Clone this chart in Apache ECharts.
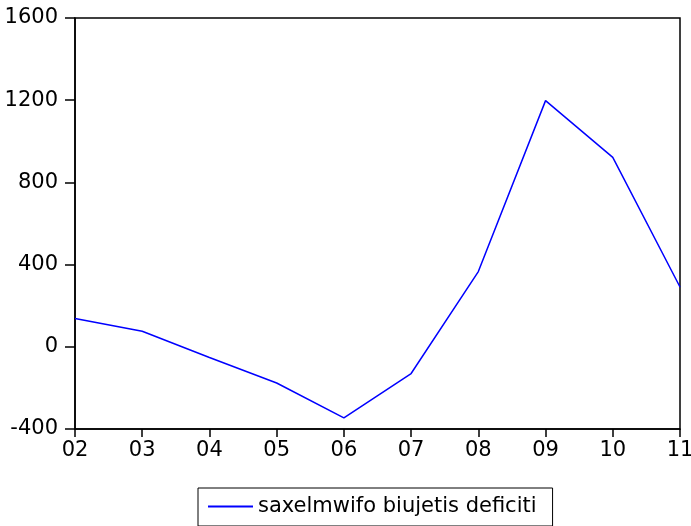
<!DOCTYPE html>
<html>
<head>
<meta charset="utf-8">
<script src="https://cdn.jsdelivr.net/npm/echarts@6/dist/echarts.min.js"></script>
<style>
  html, body { margin: 0; padding: 0; background: #fff; }
  #chart { width: 691px; height: 526px; }
</style>
</head>
<body>
<div id="chart"></div>
<script>
// Years (two-digit) on the category axis
const years = ['02', '03', '04', '05', '06', '07', '08', '09', '10', '11'];
// Budget deficit values per year
const deficit = [138, 76, -52, -176, -346, -130, 366, 1198, 922, 291];
// Value axis range
const yMin = -400;
const yMax = 1600;
const yStep = 400;
const seriesName = 'saxelmwifo biujetis deficiti';

const font = 'DejaVu Sans';
const chart = echarts.init(document.getElementById('chart'));
chart.setOption({
  animation: false,
  backgroundColor: '#ffffff',
  grid: {
    left: 75, right: 11, top: 18, bottom: 97,
    containLabel: false, outerBoundsMode: 'none',
    show: true, borderColor: '#000', borderWidth: 1.5, backgroundColor: 'transparent'
  },
  xAxis: {
    type: 'category',
    data: years,
    boundaryGap: false,
    axisLine: { onZero: false, lineStyle: { color: '#000', width: 1.5 } },
    axisTick: { show: true, inside: false, length: 8, alignWithLabel: true, lineStyle: { color: '#000', width: 1.5 } },
    axisLabel: { color: '#000', fontFamily: font, fontSize: 21, margin: 11 },
    splitLine: { show: false }
  },
  yAxis: {
    type: 'value',
    min: yMin, max: yMax, interval: yStep,
    axisLine: { show: true, lineStyle: { color: '#000', width: 1.5 } },
    axisTick: { show: true, inside: false, length: 10, lineStyle: { color: '#000', width: 1.5 } },
    axisLabel: { color: '#000', fontFamily: font, fontSize: 21, margin: 17, formatter: v => String(v) },
    splitLine: { show: false }
  },
  legend: {
    data: [{ name: seriesName, icon: 'path://M0,0 L1,0 L1,0.04 L0,0.04 Z' }],
    left: 198, top: 488,
    itemWidth: 45, itemHeight: 2, itemGap: 0,
    padding: [8, 16, 9, 10],
    borderColor: '#000', borderWidth: 1,
    textStyle: { color: '#000', fontFamily: font, fontSize: 21, padding: [0, 0, 0, 0] }
  },
  series: [{
    name: seriesName,
    type: 'line',
    data: deficit,
    symbol: 'none',
    lineStyle: { color: '#0000ff', width: 1.5 },
    itemStyle: { color: '#0000ff' }
  }]
});
</script>
</body>
</html>
